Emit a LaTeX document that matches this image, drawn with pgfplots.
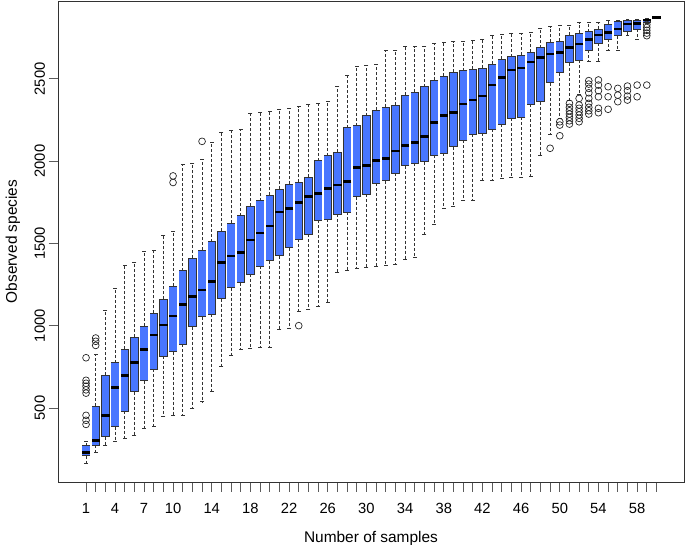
\documentclass[border=0pt]{standalone}
\usepackage{fontspec}
\setmainfont{Liberation Sans}
\usepackage{pgfplots}
\usepackage{pgfplotstable}
\pgfplotsset{compat=1.18}
\definecolor{boxblue}{RGB}{72,118,255}
\definecolor{edge}{RGB}{50,50,50}

% pos, lower whisker, q1, median, q3, upper whisker
\pgfplotstableread{
pos lw q1 med q3 uw
1 164 210 228 271 295
2 231 275 301 512 828
3 271 326 453 700 1095
4 295 386 626 775 1227
5 316 482 696 858 1369
6 336 599 778 930 1383
7 377 666 857 998 1450
8 387 737 943 1075 1460
9 447 816 1004 1160 1551
10 453 842 1059 1241 1571
11 457 887 1130 1334 1982
12 498 994 1176 1411 1986
13 538 1055 1217 1460 2011
14 599 1071 1267 1510 2112
15 755 1164 1383 1575 2175
16 822 1231 1423 1622 2185
17 857 1261 1443 1668 2195
18 860 1314 1521 1727 2290
19 866 1363 1563 1759 2294
20 871 1395 1606 1794 2304
21 978 1425 1691 1830 2315
22 984 1474 1713 1861 2321
23 1089 1525 1747 1871 2330
24 1100 1557 1784 1901 2347
25 1115 1642 1804 2002 2351
26 1144 1648 1835 2033 2361
27 1324 1677 1855 2055 2456
28 1334 1691 1875 2203 2523
29 1348 1784 1962 2215 2573
30 1355 1798 1974 2276 2584
31 1363 1865 2005 2310 2590
32 1365 1881 2015 2330 2675
33 1371 1926 2061 2341 2675
34 1403 1972 2096 2399 2695
35 1416 1987 2114 2420 2695
36 1557 1996 2148 2452 2695
37 1618 2037 2233 2491 2716
38 1715 2047 2276 2517 2719
39 1723 2087 2296 2539 2725
40 1759 2128 2347 2549 2730
41 1759 2165 2371 2559 2736
42 1885 2169 2395 2567 2740
43 1885 2193 2462 2590 2762
44 1895 2223 2507 2618 2770
45 1899 2260 2553 2634 2776
46 1899 2266 2567 2644 2776
47 1905 2347 2603 2661 2782
48 2033 2361 2628 2689 2807
49 2165 2476 2651 2721 2816
50 2262 2537 2659 2731 2822
51 2371 2598 2692 2766 2822
52 2403 2614 2711 2776 2841
53 2608 2675 2740 2786 2843
54 2608 2716 2766 2802 2843
55 2671 2740 2780 2831 2853
56 2671 2762 2802 2847 2857
57 2765 2786 2833 2853 2861
58 2740 2802 2837 2853 2863
59 2835 2841 2857 2863 2867
60 2871 2871 2871 2871 2871
}\boxdata

\begin{document}
\begin{tikzpicture}
\begin{axis}[
  scale only axis, width=626bp, height=481bp,
  xmin=-1.9, xmax=62.85, ymin=50, ymax=2973,
  axis on top,
  axis line style={draw=edge, line width=0.8bp},
  tick align=outside, xtick pos=bottom, ytick pos=left,
  major tick length=9.5bp,
  tick style={draw=edge!80, line width=0.7bp},
  xtick={1,...,60},
  xticklabels={1,,,4,,,7,,,10,,,,14,,,,18,,,,22,,,,26,,,,30,,,,34,,,,38,,,,42,,,,46,,,,50,,,,54,,,,58,,},
  ytick={500,1000,1500,2000,2500},
  /pgf/number format/assume math mode=true,
  /pgf/number format/1000 sep={},
  tick label style={font=\fontsize{14.8}{17}\selectfont},
  xticklabel style={yshift=-8bp},
  yticklabel style={rotate=90, anchor=south},
  xlabel={Number of samples}, ylabel={Observed species},
  label style={font=\fontsize{15.5}{18}\selectfont},
  xlabel style={at={(axis description cs:0.5,0)}, anchor=center, yshift=-57bp},
  ylabel style={at={(axis description cs:0,0.5)}, anchor=center, yshift=45bp},
]

% lower whiskers (dashed, from q1 down)
\addplot[draw=none, mark=none,
  error bars/y dir=minus, error bars/y explicit, error bars/error mark=none,
  error bars/error bar style={draw=edge, line width=0.75bp, dash pattern=on 3bp off 2bp}]
  table[x=pos, y=q1, y error minus expr=\thisrow{q1}-\thisrow{lw}] {\boxdata};
% upper whiskers
\addplot[draw=none, mark=none,
  error bars/y dir=plus, error bars/y explicit, error bars/error mark=none,
  error bars/error bar style={draw=edge, line width=0.75bp, dash pattern=on 3bp off 2bp}]
  table[x=pos, y=q3, y error plus expr=\thisrow{uw}-\thisrow{q3}] {\boxdata};
% whisker caps
\addplot[only marks, mark=-, mark size=1.95bp, mark options={draw=edge, line width=0.75bp}]
  table[x=pos, y=lw] {\boxdata};
\addplot[only marks, mark=-, mark size=1.95bp, mark options={draw=edge, line width=0.75bp}]
  table[x=pos, y=uw] {\boxdata};
% box outline (sides) and fill, q1 to q3
\addplot[draw=none, mark=none,
  error bars/y dir=plus, error bars/y explicit, error bars/error mark=none,
  error bars/error bar style={draw=edge, line width=8.33bp, solid}]
  table[x=pos, y=q1, y error plus expr=\thisrow{q3}-\thisrow{q1}] {\boxdata};
\addplot[draw=none, mark=none,
  error bars/y dir=plus, error bars/y explicit, error bars/error mark=none,
  error bars/error bar style={draw=boxblue, line width=7.13bp, solid}]
  table[x=pos, y=q1, y error plus expr=\thisrow{q3}-\thisrow{q1}] {\boxdata};
% box top and bottom edges
\addplot[only marks, mark=-, mark size=4.17bp, mark options={draw=edge, line width=0.6bp}]
  table[x=pos, y=q1] {\boxdata};
\addplot[only marks, mark=-, mark size=4.17bp, mark options={draw=edge, line width=0.6bp}]
  table[x=pos, y=q3] {\boxdata};
% medians
\addplot[only marks, mark=-, mark size=4.2bp, mark options={draw=black, line width=2.6bp}]
  table[x=pos, y=med] {\boxdata};

% outliers
\addplot[only marks, mark=o, mark size=3.4bp,
  mark options={draw=black!85, line width=0.7bp}] coordinates {
  (1,805) (1,668) (1,650) (1,632) (1,610) (1,590) (1,455) (1,425) (1,400)
  (2,925) (2,905) (2,880)
  (10,1910) (10,1870)
  (13,2120)
  (23,1000)
  (49,2078)
  (50,2239) (50,2219) (50,2154)
  (51,2351) (51,2327) (51,2306) (51,2286) (51,2266) (51,2245) (51,2225)
  (52,2381) (52,2341) (52,2321) (52,2300) (52,2280) (52,2260) (52,2239)
  (53,2489) (53,2468) (53,2442) (53,2415) (53,2381) (53,2351) (53,2327) (53,2306) (53,2286)
  (54,2493) (54,2462) (54,2428) (54,2391) (54,2321) (54,2294)
  (55,2452) (55,2391) (55,2315)
  (56,2442) (56,2401) (56,2361)
  (57,2456) (57,2428) (57,2395) (57,2371)
  (58,2462) (58,2391)
  (59,2462) (59,2830) (59,2812) (59,2795) (59,2778) (59,2762)
};
\end{axis}
\pgfresetboundingbox
\path (-58bp,-63bp) rectangle (627bp,482bp);
\end{tikzpicture}
\end{document}
